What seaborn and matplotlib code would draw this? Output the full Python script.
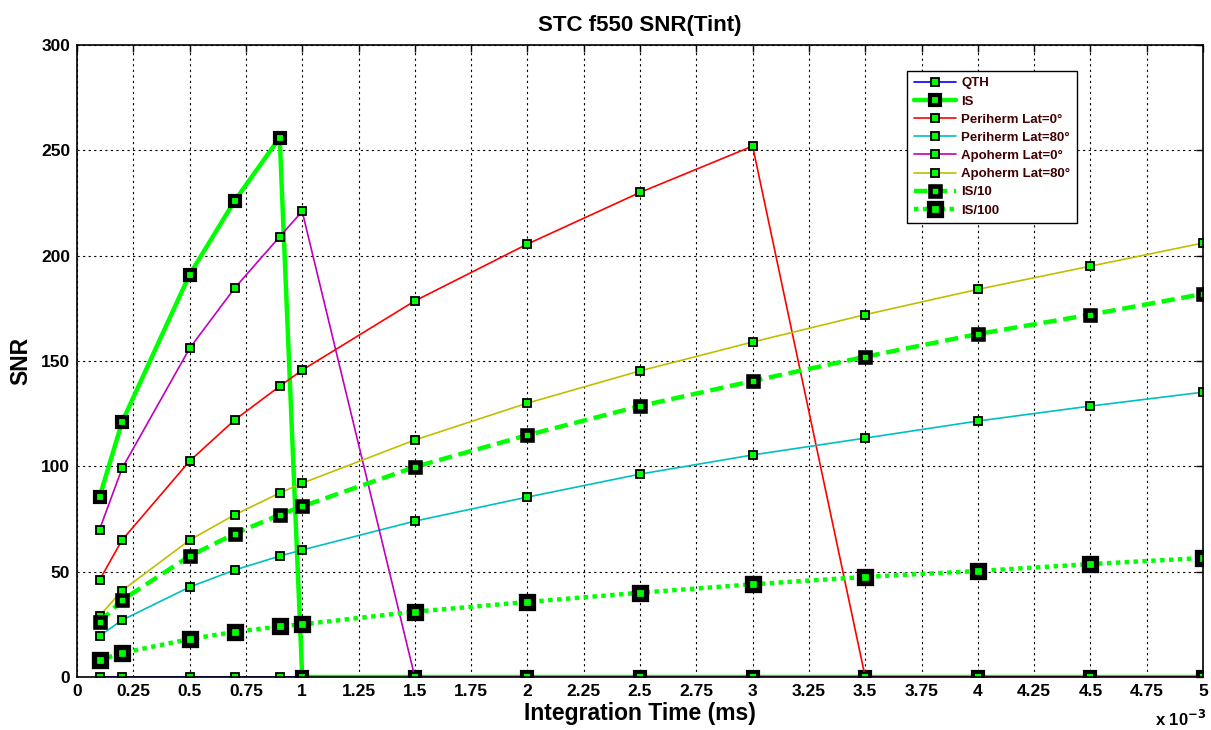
import numpy as np
import pandas as pd
import matplotlib
matplotlib.use("Agg")
import matplotlib.pyplot as plt
import seaborn as sns

# integration time in units of 1e-3 (as shown on the axis)
t_int = [0.1, 0.2, 0.5, 0.7, 0.9, 1.0, 1.5, 2.0, 2.5, 3.0, 3.5, 4.0, 4.5, 5.0]

qth = [0, 0, 0, 0, 0, 0, 0, 0, 0, 0, 0, 0, 0, 0]
is_full = [85.4, 121, 191, 226, 256, 0, 0, 0, 0, 0, 0, 0, 0, 0]
periherm_0 = [46, 65, 102.5, 122, 138, 145.7, 178.5, 205.5, 230, 252, 0, 0, 0, 0]
periherm_80 = [19.5, 27, 42.7, 50.8, 57.4, 60.3, 74, 85.4, 96.3, 105.4, 113.4, 121.5, 128.6, 135.2]
apoherm_0 = [70, 99, 156, 184.6, 209, 221, 0, 0, 0, 0, 0, 0, 0, 0]
apoherm_80 = [29, 41, 65, 77, 87.3, 92, 112.5, 130, 145.3, 159, 172, 184, 195, 206]
is_10 = [26, 36.5, 57.4, 68, 77, 81, 99.7, 114.8, 128.6, 140.5, 152, 162.8, 172, 181.8]
is_100 = [8, 11.4, 18, 21.4, 24, 25, 31, 35.6, 40, 44, 47.5, 50.3, 53.6, 56.5]

series_names = ["QTH", "IS", "Periherm Lat=0°", "Periherm Lat=80°",
                "Apoherm Lat=0°", "Apoherm Lat=80°", "IS/10", "IS/100"]
series_values = [qth, is_full, periherm_0, periherm_80,
                 apoherm_0, apoherm_80, is_10, is_100]

# style per series: colour, line width, dash, marker size, marker edge width
styles = {
    "QTH": ("#0000ff", 1.2, "-", 5.5, 1.3),
    "IS": ("#00ff00", 3.2, "-", 7.5, 3.0),
    "Periherm Lat=0°": ("#ff0000", 1.2, "-", 5.5, 1.3),
    "Periherm Lat=80°": ("#00bfbf", 1.2, "-", 5.5, 1.3),
    "Apoherm Lat=0°": ("#bf00bf", 1.2, "-", 5.5, 1.3),
    "Apoherm Lat=80°": ("#bfbf00", 1.2, "-", 5.5, 1.3),
    "IS/10": ("#00ff00", 3.2, (0, (3, 1.5)), 7.5, 3.3),
    "IS/100": ("#00ff00", 3.2, (0, (1, 1)), 8.5, 3.8),
}

df = pd.DataFrame({"t": np.tile(t_int, len(series_names)),
                   "snr": np.concatenate(series_values),
                   "series": np.repeat(series_names, len(t_int))})

sns.set_style("white")
plt.rcParams["font.family"] = ["Liberation Sans", "DejaVu Sans"]
plt.rcParams["font.weight"] = "bold"
plt.rcParams["text.color"] = "black"
plt.rcParams["axes.labelcolor"] = "black"

fig = plt.figure(figsize=(12.11, 7.30), dpi=100)
ax = fig.add_axes([0.0636, 0.0726, 0.9298, 0.8658])

for name in series_names:
    color, lw, ls, ms, mew = styles[name]
    sub = df[df["series"] == name]
    sns.lineplot(data=sub, x="t", y="snr", ax=ax, color=color, linewidth=lw,
                 linestyle=ls, marker="s", markersize=ms, markerfacecolor="#00ff00",
                 markeredgecolor="black", markeredgewidth=mew, label=name,
                 estimator=None, sort=False)

ax.set_xlim(0, 5)
ax.set_ylim(0, 300)
ax.set_xticks(np.arange(0, 5.01, 0.25))
ax.set_xticklabels([f"{v:g}" for v in np.arange(0, 5.01, 0.25)])
ax.set_yticks(np.arange(0, 301, 50))
ax.tick_params(direction="in", top=True, right=True, length=5, width=1,
               labelsize=12.5, colors="black", pad=5)
for lab in ax.get_xticklabels() + ax.get_yticklabels():
    lab.set_fontweight("bold")
ax.grid(True, color="black", linestyle=(0, (2, 3)), linewidth=0.8)
for sp in ax.spines.values():
    sp.set_color("black")
    sp.set_linewidth(1.2)

ax.set_xlabel("Integration Time (ms)", fontsize=16.5, fontweight="bold", labelpad=2)
ax.set_ylabel("SNR", fontsize=16.5, fontweight="bold", labelpad=6)
ax.set_title("STC f550 SNR(Tint)", fontsize=16, fontweight="bold", pad=10)
fig.text(0.954, 0.006, "x 10$^{-3}$", fontsize=12, fontweight="bold",
         va="baseline")

leg = ax.legend(loc="upper right", bbox_to_anchor=(0.894, 0.970), fontsize=9.5,
                frameon=True, fancybox=False, edgecolor="black", framealpha=1,
                handlelength=3.2, labelspacing=0.45, borderpad=0.5,
                handletextpad=0.4)
leg.get_frame().set_linewidth(1.0)
for t in leg.get_texts():
    t.set_fontweight("bold")
    t.set_color("#400000")

fig.savefig("out.png", dpi=100)
